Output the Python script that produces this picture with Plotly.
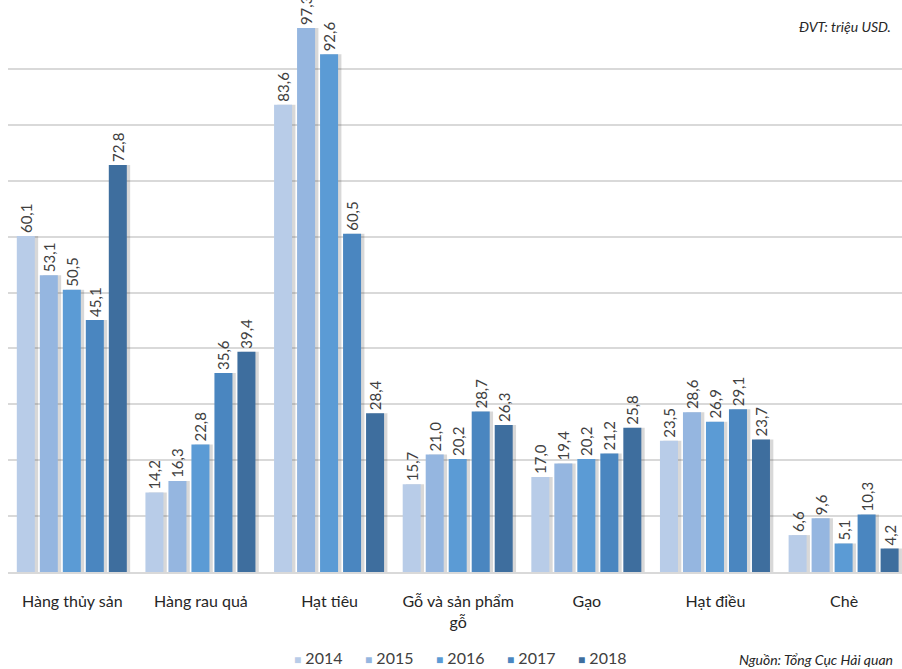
import plotly.graph_objects as go

# Export turnover by product group, million USD
categories = ["Hàng thủy sản", "Hàng rau quả", "Hạt tiêu", "Gỗ và sản phẩm<br>gỗ",
              "Gạo", "Hạt điều", "Chè"]
years = ["2014", "2015", "2016", "2017", "2018"]
values_2014 = [60.1, 14.2, 83.6, 15.7, 17.0, 23.5, 6.6]
values_2015 = [53.1, 16.3, 97.3, 21.0, 19.4, 28.6, 9.6]
values_2016 = [50.5, 22.8, 92.6, 20.2, 20.2, 26.9, 5.1]
values_2017 = [45.1, 35.6, 60.5, 28.7, 21.2, 29.1, 10.3]
values_2018 = [72.8, 39.4, 28.4, 26.3, 25.8, 23.7, 4.2]
series = [values_2014, values_2015, values_2016, values_2017, values_2018]
colors = ["#B8CCE8", "#95B6E0", "#5B9BD5", "#4A86C0", "#3E6E9E"]

FONT = "Lato"
x_idx = list(range(len(categories)))

slot = 0.1788        # distance between neighbouring bars in a group
bar_w = 0.14         # bar width in category units
first = -0.4316      # left edge of the first bar relative to category centre

fig = go.Figure()

# soft drop shadows behind the bars
for i, vals in enumerate(series):
    fig.add_trace(go.Bar(
        x=x_idx, y=vals, offset=first + i * slot + 0.026, width=bar_w,
        marker=dict(color="rgba(60,60,60,0.2)", line=dict(width=0)),
        showlegend=False, hoverinfo="skip",
    ))

for i, (yr, vals) in enumerate(zip(years, series)):
    fig.add_trace(go.Bar(
        name=yr, x=x_idx, y=vals, offset=first + i * slot, width=bar_w,
        marker=dict(color=colors[i], line=dict(width=0)),
        text=[f"{v:.1f}".replace(".", ",") for v in vals],
        textposition="outside", textangle=-90, constraintext="none",
        textfont=dict(family=FONT, size=15, color="#404040"),
        cliponaxis=False, showlegend=False,
    ))

# legend row: coloured square + year, laid out left to right
legend_notes = []
for i, yr in enumerate(years):
    legend_notes.append(dict(
        text=f"<span style='color:{colors[i]};font-size:12px'>■</span> {yr}",
        xref="paper", yref="paper", x=(292 + i * 71 - 8) / 894, y=-0.153,
        xanchor="left", yanchor="middle", showarrow=False,
        font=dict(family=FONT, size=16, color="#404040"),
    ))

fig.update_layout(
    width=902, height=669,
    margin=dict(l=8, r=0, t=13, b=97, autoexpand=False),
    barmode="overlay",
    plot_bgcolor="white", paper_bgcolor="white",
    font=dict(family=FONT, color="#262626"),
    showlegend=False,
    xaxis=dict(
        tickmode="array", tickvals=x_idx, ticktext=categories,
        range=[-0.5, 6.45], showgrid=False, zeroline=False,
        showline=True, linecolor="#D9D9D9", linewidth=1.5,
        ticks="", ticklabelstandoff=14, automargin=False,
        tickfont=dict(family=FONT, size=16, color="#262626"),
    ),
    yaxis=dict(
        range=[0, 100], dtick=10, showticklabels=False,
        showgrid=True, gridcolor="#D9D9D9", gridwidth=1.5,
        zeroline=False, automargin=False,
    ),
    annotations=[
        dict(text="<i>ĐVT: triệu USD.</i>", xref="paper", yref="paper",
             x=0.99, y=0.975, xanchor="right", yanchor="middle", showarrow=False,
             font=dict(family=FONT, size=14, color="#262626")),
        dict(text="<i>Nguồn: Tổng Cục Hải quan</i>", xref="paper", yref="paper",
             x=(737 - 8) / 894, y=-0.157, xanchor="left", yanchor="middle",
             showarrow=False, font=dict(family=FONT, size=14, color="#262626")),
    ] + legend_notes,
)

fig.write_html("out.html")
